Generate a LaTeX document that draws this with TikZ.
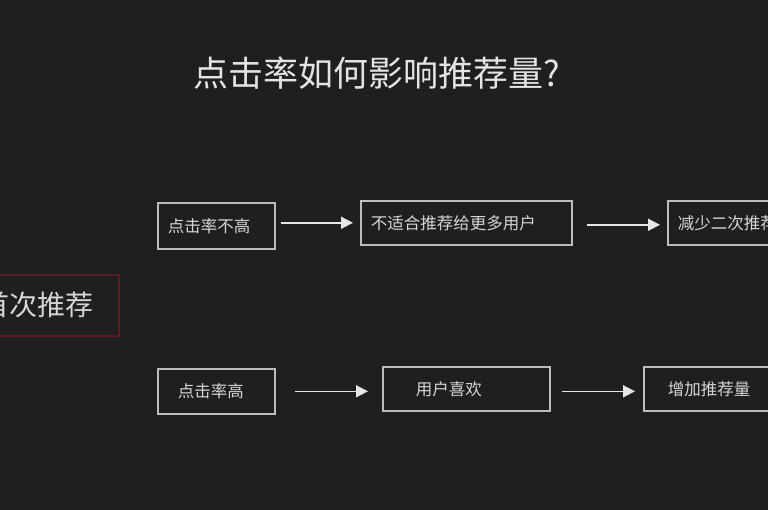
\documentclass[tikz,border=0pt]{standalone}
\usepackage{fontspec}
\setmainfont{Noto Sans CJK SC}
\usetikzlibrary{arrows.meta}
\definecolor{bg}{HTML}{1F1F1F}
\definecolor{boxline}{HTML}{BDBDBD}
\definecolor{txt}{HTML}{D6D6D6}
\definecolor{ttl}{HTML}{E4E4E4}
\definecolor{redline}{HTML}{5E1B20}
\definecolor{arr}{HTML}{E6E6E6}
\tikzset{
  stepbox/.style={draw=boxline, line width=1.6pt, rectangle, anchor=north west,
    align=left, inner ysep=0pt, text=txt, font=\fontsize{16.5}{20}\selectfont},
  firstbox/.style={draw=redline, line width=1.6pt, rectangle, anchor=north west,
    align=left, inner ysep=0pt, text=txt, font=\fontsize{28}{32}\selectfont},
  flow/.style={draw=arr, line width=1.6pt, -{Triangle[length=12pt,width=12pt]}}
}
\begin{document}
\begin{tikzpicture}[x=1pt,y=-1pt]
\useasboundingbox (0,0) rectangle (768,510);
\clip (0,0) rectangle (768,510);
\fill[bg] (0,0) rectangle (768,510);
\node[text=ttl, font=\fontsize{35}{40}\selectfont] (title) at (377,73) {点击率如何影响推荐量?};
\node[firstbox, minimum width=148pt, minimum height=61pt, text width=126pt, inner xsep=11pt] (b0) at (-30,274) {首次推荐};
\node[stepbox, minimum width=117pt, minimum height=46pt, text width=97pt, inner xsep=10pt] (b1) at (157,202) {点击率不高};
\node[stepbox, minimum width=211pt, minimum height=44pt, text width=191pt, inner xsep=10pt] (b2) at (360,200) {不适合推荐给更多用户};
\node[stepbox, minimum width=150pt, minimum height=44pt, text width=130pt, inner xsep=10pt] (b3) at (667,200) {减少二次推荐};
\node[stepbox, minimum width=117pt, minimum height=45pt, text width=77pt, inner xsep=20pt] (b4) at (157,368) {点击率高};
\node[stepbox, minimum width=167pt, minimum height=44pt, text width=101pt, inner xsep=33pt] (b5) at (382,366) {用户喜欢};
\node[stepbox, minimum width=150pt, minimum height=44pt, text width=102pt, inner xsep=24pt] (b6) at (643,366) {增加推荐量};
\draw[flow, shorten <=5pt, shorten >=7pt] (b2.west -| b1.east) -- (b2.west);
\draw[flow, shorten <=14pt, shorten >=7pt] ([yshift=-2pt]b2.east) -- ([yshift=-2pt]b2.east -| b3.west);
\draw[flow, shorten <=19pt, shorten >=14pt] (b4.east) -- (b4.east -| b5.west);
\draw[flow, shorten <=11pt, shorten >=8pt] (b5.east |- b4.east) -- (b6.west |- b4.east);
\end{tikzpicture}
\end{document}
